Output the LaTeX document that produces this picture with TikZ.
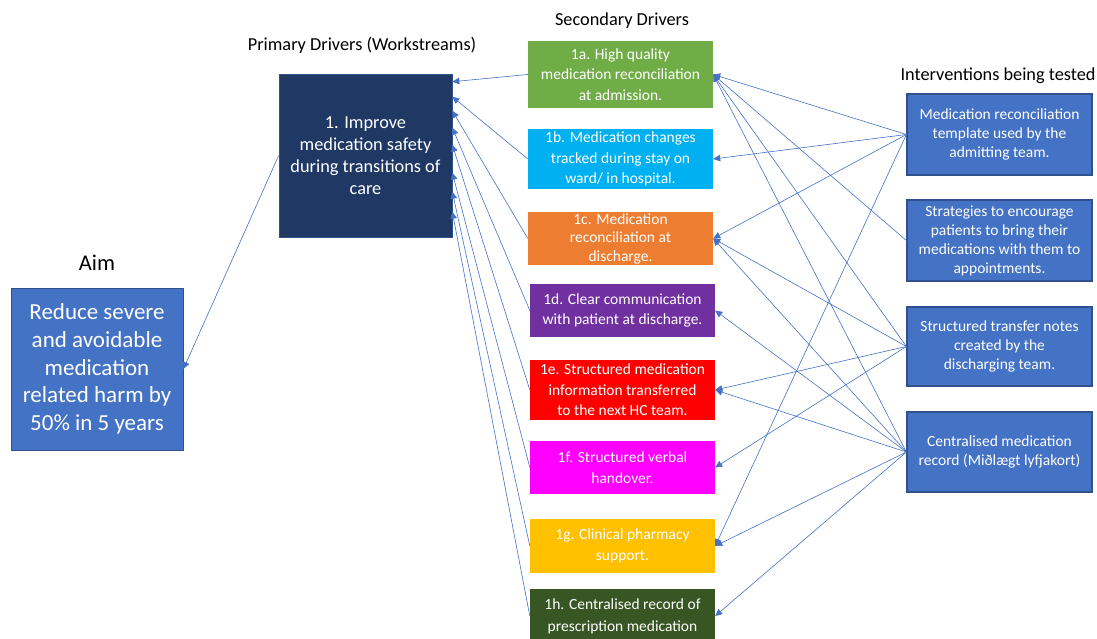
\documentclass[tikz,border=0pt]{standalone}
\usepackage{fontspec}
\setmainfont{Carlito}
\usetikzlibrary{arrows.meta}

\definecolor{cgreen}{HTML}{70AD47}
\definecolor{cltblue}{HTML}{00B0F0}
\definecolor{corange}{HTML}{ED7D31}
\definecolor{cpurple}{HTML}{7030A0}
\definecolor{cred}{HTML}{FF0000}
\definecolor{cmagenta}{HTML}{FF00FF}
\definecolor{cgold}{HTML}{FFC000}
\definecolor{cdkgreen}{HTML}{375623}
\definecolor{cnavy}{HTML}{1F3864}
\definecolor{cblue}{HTML}{4472C4}
\definecolor{cborder}{HTML}{2F528F}
\definecolor{cline}{HTML}{4472C4}

\tikzset{
  box/.style={rectangle, inner sep=0pt, align=center, text=white},
  secbox/.style={box, minimum width=185pt, font=\fontsize{15.5}{20.5}\selectfont},
  intbox/.style={box, fill=cblue, draw=cborder, line width=1.2pt,
    minimum width=185pt, font=\fontsize{15.5}{19}\selectfont},
  title/.style={inner sep=0pt, font=\fontsize{18.3}{21}\selectfont},
  arr/.style={draw=cline, line width=0.6pt,
    -{Triangle[length=7pt,width=6.5pt,fill=cline]}}
}

\begin{document}
\begin{tikzpicture}[x=1pt,y=-1pt]
\useasboundingbox[fill=white] (0,0) rectangle (1097,639);

% column titles
\node[title, font=\fontsize{22.5}{26}\selectfont] (taim) at (97,263) {Aim};
\node[title] (tprim) at (362,45) {Primary Drivers (Workstreams)};
\node[title] (tsec) at (622,21) {Secondary Drivers};
\node[title] (tint) at (998,76) {Interventions being tested};

% aim
\node[box, fill=cblue, draw=cborder, line width=0.8pt,
  minimum width=172pt, minimum height=162pt,
  font=\fontsize{23}{27.6}\selectfont] (aim) at (97,369)
  {Reduce severe\\and avoidable\\medication\\related harm by\\50\% in 5 years};

% primary driver
\node[box, fill=cnavy, draw=cborder, line width=0.6pt,
  minimum width=173pt, minimum height=163pt,
  font=\fontsize{18.3}{22}\selectfont] (prim) at (365.5,155.5)
  {1. Improve\\medication safety\\during transitions of\\care};

% secondary drivers
\node[secbox, fill=cgreen, minimum height=67pt] (s1a) at (620.5,74.5)
  {1a. High quality\\medication reconciliation\\at admission.};
\node[secbox, fill=cltblue, minimum height=60pt] (s1b) at (620.5,159)
  {1b. Medication changes\\tracked during stay on\\ward/ in hospital.};
\node[secbox, fill=corange, minimum height=53pt, font=\fontsize{15.5}{18.5}\selectfont] (s1c) at (620.5,238.5)
  {1c. Medication\\reconciliation at\\discharge.};
\node[secbox, fill=cpurple, minimum height=53pt] (s1d) at (622.5,310.5)
  {1d. Clear communication\\with patient at discharge.};
\node[secbox, fill=cred, minimum height=60pt] (s1e) at (622.5,390)
  {1e. Structured medication\\information transferred\\to the next HC team.};
\node[secbox, fill=cmagenta, minimum height=53pt] (s1f) at (622.5,467.5)
  {1f. Structured verbal\\handover.};
\node[secbox, fill=cgold, minimum height=54pt] (s1g) at (622.5,546)
  {1g. Clinical pharmacy\\support.};
\node[secbox, fill=cdkgreen, minimum height=54pt, font=\fontsize{15.5}{22}\selectfont] (s1h) at (622.5,616)
  {1h. Centralised record of\\prescription medication};

% interventions
\node[intbox, minimum height=81pt] (i1) at (999.5,134.5)
  {Medication reconciliation\\template used by the\\admitting team.};
\node[intbox, minimum height=81pt] (i2) at (999.5,240.5)
  {Strategies to encourage\\patients to bring their\\medications with them to\\appointments.};
\node[intbox, minimum height=79pt] (i3) at (999.5,346.5)
  {Structured transfer notes\\created by the\\discharging team.};
\node[intbox, minimum height=80pt] (i4) at (999.5,452)
  {Centralised medication\\record (Miðlægt lyfjakort)};

% primary driver -> aim
\draw[arr] (prim.west) -- (aim.east);

% secondary drivers -> primary driver
\draw[arr] (s1a.west) -- ([yshift=-8pt]prim.north east);
\draw[arr] (s1b.west) -- ([yshift=-23pt]prim.north east);
\draw[arr] (s1c.west) -- ([yshift=-37pt]prim.north east);
\draw[arr] (s1d.west) -- ([yshift=-54pt]prim.north east);
\draw[arr] (s1e.west) -- ([yshift=-71pt]prim.north east);
\draw[arr] (s1f.west) -- ([yshift=-99pt]prim.north east);
\draw[arr] (s1g.west) -- ([yshift=-118pt]prim.north east);
\draw[arr] (s1h.west) -- ([yshift=-138pt]prim.north east);

% interventions -> secondary drivers
\foreach \t in {s1a,s1b,s1c,s1g} \draw[arr] (i1.west) -- (\t.east);
\draw[arr] (i2.west) -- (s1a.east);
\foreach \t in {s1a,s1c,s1e,s1f} \draw[arr] (i3.west) -- (\t.east);
\foreach \t in {s1a,s1c,s1d,s1e,s1g,s1h} \draw[arr] (i4.west) -- (\t.east);
\end{tikzpicture}
\end{document}
